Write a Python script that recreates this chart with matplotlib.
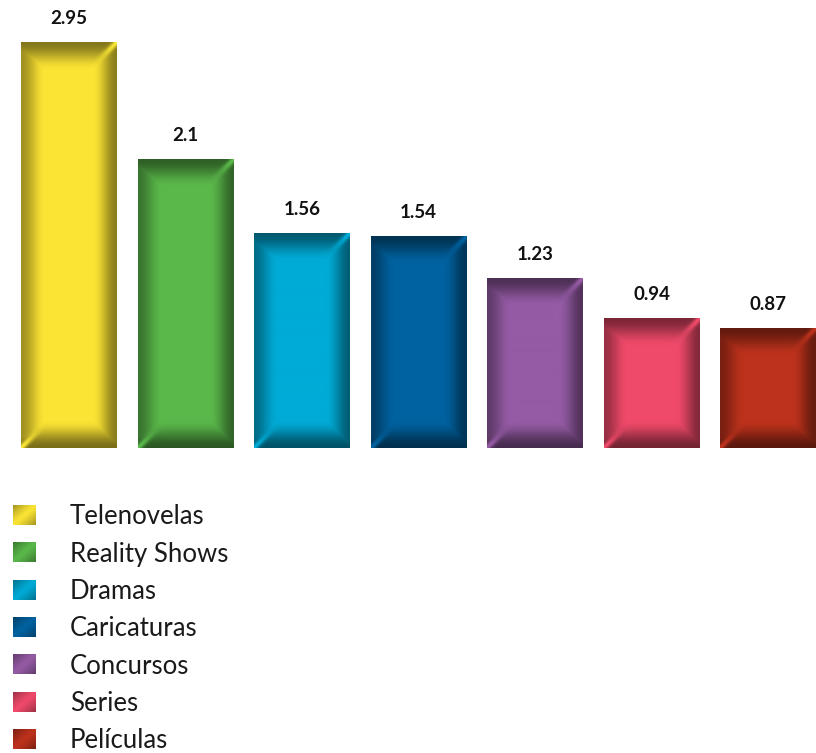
import numpy as np
import matplotlib
matplotlib.use("Agg")
import matplotlib.pyplot as plt
from matplotlib.colors import to_rgb

categories = ['Telenovelas', 'Reality Shows', 'Dramas', 'Caricaturas',
              'Concursos', 'Series', 'Películas']
values = [2.95, 2.1, 1.56, 1.54, 1.23, 0.94, 0.87]
labels = ['2.95', '2.1', '1.56', '1.54', '1.23', '0.94', '0.87']
colors = ['#fce434', '#5ab84a', '#00abd6', '#0062a0',
          '#955ba5', '#f04a6a', '#bd321c']

W, H = 816, 753
DPI = 100


def fade(d, w):
    # 1 at the edge, smoothly down to 0 at distance w
    x = np.clip(d / w, 0, 1)
    return 1 - x * x * (3 - 2 * x)


def bevel_image(color, wpx, hpx):
    base = np.array(to_rgb(color))
    c = np.arange(wpx) + 0.5
    r = np.arange(hpx) + 0.5
    cc, rr = np.meshgrid(c, r)
    dl, dr = cc, wpx - cc
    dt, db = rr, hpx - rr

    darkness = np.maximum.reduce([0.48 * fade(dt, 28), 0.52 * fade(db, 28),
                                  0.36 * fade(dl, 24), 0.45 * fade(dr, 24)])
    img = base[None, None, :] * (1 - darkness)[..., None]
    # soft light streaks at the top-right and bottom-left corners
    h1 = np.exp(-((dt - dr) / 4.0) ** 2) * fade(np.minimum(dt, dr), 28)
    h2 = np.exp(-((db - dl) / 4.0) ** 2) * fade(np.minimum(db, dl), 28)
    h = np.clip(h1 + h2, 0, 1)[..., None]
    light = np.clip(base * 1.03, 0, 1)[None, None, :]
    img = img * (1 - h) + light * h
    return np.clip(img, 0, 1)


def swatch_image(color, n=40):
    base = np.array(to_rgb(color))
    c = np.linspace(0, 1, n)
    cc, rr = np.meshgrid(c, c)
    t = cc + rr
    shade = 1 - 0.35 * np.abs(t - 1) ** 1.2
    return np.clip(base[None, None, :] * shade[..., None], 0, 1)


fig = plt.figure(figsize=(W / DPI, H / DPI), dpi=DPI)

# bar area
spacing = 116.5
bar_w = 96 / spacing
baseline = 448
ax = fig.add_axes([0, 1 - baseline / H, 1, baseline / H])
ax.set_xlim(-69 / spacing, (W - 69) / spacing)
ax.set_ylim(0, baseline / 137.5)
ax.axis('off')

x = np.arange(len(values))
px_per_x = W / (ax.get_xlim()[1] - ax.get_xlim()[0])
px_per_y = baseline / ax.get_ylim()[1]
for xi, v, col, lab in zip(x, values, colors, labels):
    wpx = int(round(bar_w * px_per_x))
    hpx = int(round(v * px_per_y))
    img = bevel_image(col, wpx, hpx)
    ax.imshow(img, extent=(xi - bar_w / 2, xi + bar_w / 2, 0, v),
              aspect='auto', interpolation='bilinear', zorder=2)
    ax.text(xi, v + 24 / px_per_y, lab, ha='center', va='center',
            fontsize=13.5, fontweight='bold', family=['Lato', 'DejaVu Sans'],
            color='#111111')

# legend
row0, row_gap = 515, 37.3
for i, (name, col) in enumerate(zip(categories, colors)):
    yc = row0 + i * row_gap
    sax = fig.add_axes([13 / W, 1 - (yc + 10) / H, 23 / W, 20 / H])
    sax.imshow(swatch_image(col), aspect='auto', interpolation='bilinear')
    sax.axis('off')
    fig.text(70 / W, 1 - (yc + 2) / H, name, ha='left', va='center',
             fontsize=18.5, family=['Lato', 'DejaVu Sans'], color='#1a1a1a')

fig.savefig('out.png', dpi=DPI)
